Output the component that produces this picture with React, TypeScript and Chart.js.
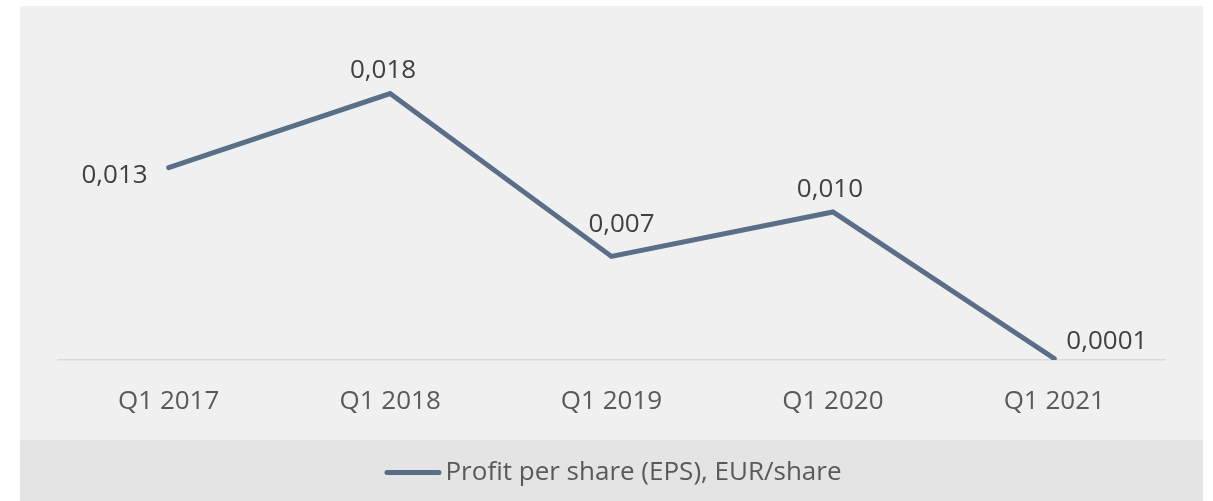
import React, { useEffect, useRef } from "react";
import { Chart, registerables } from "chart.js";

Chart.register(...registerables);

const categories = ["Q1 2017", "Q1 2018", "Q1 2019", "Q1 2020", "Q1 2021"];
const epsValues = [0.013, 0.018, 0.007, 0.01, 0.0001];
const seriesName = "Profit per share (EPS), EUR/share";

const FONT = "'Open Sans', 'Noto Sans', sans-serif";
const FONT_SIZE = 26;
const LINE_COLOR = "#5a6f87";

const formatValue = (v: number) =>
  (v < 0.001 ? v.toFixed(4) : v.toFixed(3)).replace(".", ",");

const labelPlacement = [
  { align: "right", dx: -21, dy: 15 },
  { align: "center", dx: -7, dy: -16 },
  { align: "center", dx: 10, dy: -24 },
  { align: "center", dx: -3, dy: -15 },
  { align: "left", dx: 12, dy: -10 },
];

const backgroundPlugin = {
  id: "panelBackground",
  beforeDraw(chart: any) {
    const { ctx, width, height } = chart;
    ctx.save();
    ctx.fillStyle = "#ffffff";
    ctx.fillRect(0, 0, width, height);
    ctx.fillStyle = "#f0f0f0";
    ctx.fillRect(20, 6, 1183, 434);
    ctx.fillStyle = "#e4e4e4";
    ctx.fillRect(20, 440, 1183, height - 440);
    ctx.restore();
  },
};

const dataLabelPlugin = {
  id: "valueLabels",
  afterDatasetsDraw(chart: any) {
    const { ctx } = chart;
    const meta = chart.getDatasetMeta(0);
    const data = chart.data.datasets[0].data as number[];
    ctx.save();
    ctx.font = `${FONT_SIZE}px ${FONT}`;
    ctx.fillStyle = "#404040";
    ctx.textBaseline = "alphabetic";
    meta.data.forEach((pt: any, i: number) => {
      const p = labelPlacement[i];
      ctx.textAlign = p.align;
      ctx.fillText(formatValue(data[i]), pt.x + p.dx, pt.y + p.dy);
    });
    ctx.restore();
  },
};

const legendPlugin = {
  id: "customLegend",
  afterDraw(chart: any) {
    const { ctx } = chart;
    const ds = chart.data.datasets[0];
    ctx.save();
    ctx.font = `${FONT_SIZE}px ${FONT}`;
    const text = ds.label as string;
    const tw = ctx.measureText(text).width;
    const total = 61 + tw;
    const cx = 613;
    const y = 472;
    const startX = cx - total / 2;
    ctx.strokeStyle = ds.borderColor;
    ctx.lineWidth = 5;
    ctx.lineCap = "round";
    ctx.beginPath();
    ctx.moveTo(startX + 2.5, y + 0.5);
    ctx.lineTo(startX + 54.5, y + 0.5);
    ctx.stroke();
    ctx.fillStyle = "#595959";
    ctx.textAlign = "left";
    ctx.textBaseline = "middle";
    ctx.fillText(text, startX + 61, y + 1);
    ctx.restore();
  },
};

export default function App() {
  const canvasRef = useRef<HTMLCanvasElement | null>(null);

  useEffect(() => {
    document.body.style.margin = "0";
    const canvas = canvasRef.current;
    if (!canvas) return;
    const chart = new Chart(canvas, {
      type: "line",
      data: {
        labels: categories,
        datasets: [
          {
            label: seriesName,
            data: epsValues,
            borderColor: LINE_COLOR,
            backgroundColor: LINE_COLOR,
            borderWidth: 5,
            borderCapStyle: "round",
            borderJoinStyle: "miter",
            pointRadius: 0,
            pointHoverRadius: 0,
            tension: 0,
            fill: false,
          },
        ],
      },
      options: {
        responsive: false,
        animation: false,
        devicePixelRatio: 1,
        layout: { padding: { left: 58, right: 48, top: 64, bottom: 61 } },
        plugins: {
          legend: { display: false },
          tooltip: { enabled: false },
        },
        scales: {
          x: {
            offset: true,
            grid: { display: false, drawTicks: false },
            border: { display: true, color: "#d9d9d9", width: 1.5 },
            ticks: {
              color: "#595959",
              font: { family: FONT, size: FONT_SIZE },
              padding: 26,
              maxRotation: 0,
              autoSkip: false,
            },
            afterFit: (scale: any) => {
              scale.height = 80;
            },
          },
          y: {
            display: false,
            min: 0,
            max: 0.02,
          },
        },
      },
      plugins: [backgroundPlugin, dataLabelPlugin, legendPlugin],
    });
    return () => chart.destroy();
  }, []);

  return (
    <div style={{ position: "absolute", left: 0, top: 0, width: 1213, height: 501 }}>
      <canvas ref={canvasRef} width={1213} height={501} />
    </div>
  );
}
